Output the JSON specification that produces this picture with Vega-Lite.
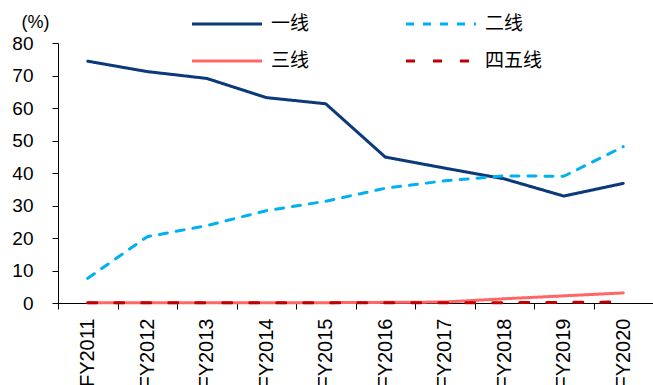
{
  "$schema": "https://vega.github.io/schema/vega-lite/v6.json",
  "autosize": {"type": "none"},
  "padding": {"left": 58, "top": 43, "right": 0, "bottom": 82},
  "width": 595,
  "height": 260,
  "background": "white",
  "config": {
    "view": {"stroke": null},
    "font": "Liberation Sans",
    "axis": {
      "domainColor": "black",
      "tickColor": "black",
      "domainWidth": 1,
      "tickWidth": 1,
      "tickSize": 6,
      "labelColor": "black",
      "labelFont": "Liberation Sans",
      "grid": false
    },
    "legend": {
      "orient": "none",
      "direction": "horizontal",
      "legendX": 150,
      "legendY": -38,
      "columns": 2,
      "columnPadding": 90,
      "rowPadding": 8,
      "symbolType": "M-2,0H2",
      "symbolSize": 1225,
      "symbolStrokeWidth": 3.5,
      "labelFont": "Noto Sans CJK SC",
      "labelFontSize": 19,
      "labelColor": "black",
      "labelOffset": 25
    }
  },
  "data": {
    "values": [
      {"year": "FY2011", "tier": "一线", "share": 74.4},
      {"year": "FY2012", "tier": "一线", "share": 71.2},
      {"year": "FY2013", "tier": "一线", "share": 69.1},
      {"year": "FY2014", "tier": "一线", "share": 63.2},
      {"year": "FY2015", "tier": "一线", "share": 61.3},
      {"year": "FY2016", "tier": "一线", "share": 44.9},
      {"year": "FY2017", "tier": "一线", "share": 41.5},
      {"year": "FY2018", "tier": "一线", "share": 38.2},
      {"year": "FY2019", "tier": "一线", "share": 32.9},
      {"year": "FY2020", "tier": "一线", "share": 36.8},
      {"year": "FY2011", "tier": "二线", "share": 7.6},
      {"year": "FY2012", "tier": "二线", "share": 20.4},
      {"year": "FY2013", "tier": "二线", "share": 23.8},
      {"year": "FY2014", "tier": "二线", "share": 28.4},
      {"year": "FY2015", "tier": "二线", "share": 31.3},
      {"year": "FY2016", "tier": "二线", "share": 35.3},
      {"year": "FY2017", "tier": "二线", "share": 37.6},
      {"year": "FY2018", "tier": "二线", "share": 39.1},
      {"year": "FY2019", "tier": "二线", "share": 39.0},
      {"year": "FY2020", "tier": "二线", "share": 48.1},
      {"year": "FY2011", "tier": "三线", "share": 0.1},
      {"year": "FY2012", "tier": "三线", "share": 0.1},
      {"year": "FY2013", "tier": "三线", "share": 0.1},
      {"year": "FY2014", "tier": "三线", "share": 0.1},
      {"year": "FY2015", "tier": "三线", "share": 0.1},
      {"year": "FY2016", "tier": "三线", "share": 0.2},
      {"year": "FY2017", "tier": "三线", "share": 0.3},
      {"year": "FY2018", "tier": "三线", "share": 1.3},
      {"year": "FY2019", "tier": "三线", "share": 2.2},
      {"year": "FY2020", "tier": "三线", "share": 3.1},
      {"year": "FY2011", "tier": "四五线", "share": 0.1},
      {"year": "FY2012", "tier": "四五线", "share": 0.1},
      {"year": "FY2013", "tier": "四五线", "share": 0.1},
      {"year": "FY2014", "tier": "四五线", "share": 0.1},
      {"year": "FY2015", "tier": "四五线", "share": 0.1},
      {"year": "FY2016", "tier": "四五线", "share": 0.1},
      {"year": "FY2017", "tier": "四五线", "share": 0.1},
      {"year": "FY2018", "tier": "四五线", "share": 0.1},
      {"year": "FY2019", "tier": "四五线", "share": 0.2},
      {"year": "FY2020", "tier": "四五线", "share": 0.3}
    ]
  },
  "mark": {"type": "line", "strokeCap": "round", "strokeJoin": "round"},
  "encoding": {
    "x": {
      "field": "year",
      "type": "ordinal",
      "scale": {"type": "band", "paddingInner": 0, "paddingOuter": 0},
      "bandPosition": 0.5,
      "axis": {
        "title": null,
        "tickBand": "extent",
        "labelAngle": -90,
        "labelAlign": "right",
        "labelBaseline": "middle",
        "labelFontSize": 20,
        "labelPadding": 9
      }
    },
    "y": {
      "field": "share",
      "type": "quantitative",
      "scale": {"domain": [0, 80], "nice": false},
      "axis": {
        "values": [0, 10, 20, 30, 40, 50, 60, 70, 80],
        "labelFontSize": 19,
        "labelPadding": 19,
        "title": "(%)",
        "titleAngle": 0,
        "titleFontSize": 18,
        "titleFontWeight": "normal",
        "titleX": -23,
        "titleY": -21,
        "titleAlign": "center",
        "titleBaseline": "middle",
        "titleFont": "Liberation Sans"
      }
    },
    "color": {
      "field": "tier",
      "type": "nominal",
      "sort": ["一线", "二线", "三线", "四五线"],
      "scale": {
        "domain": ["一线", "二线", "三线", "四五线"],
        "range": ["#0B3A7A", "#00B0F0", "#FF6666", "#C00000"]
      },
      "legend": {"title": null, "values": ["一线", "二线", "三线", "四五线"]}
    },
    "strokeDash": {
      "field": "tier",
      "type": "nominal",
      "sort": ["一线", "二线", "三线", "四五线"],
      "scale": {
        "domain": ["一线", "二线", "三线", "四五线"],
        "range": [[1, 0], [8, 9], [1, 0], [9, 18]]
      },
      "legend": {"title": null, "values": ["一线", "二线", "三线", "四五线"]}
    },
    "strokeWidth": {
      "field": "tier",
      "type": "ordinal",
      "sort": ["一线", "二线", "三线", "四五线"],
      "scale": {
        "domain": ["一线", "二线", "三线", "四五线"],
        "range": [3, 3, 4.5, 4.5]
      },
      "legend": null
    }
  }
}
